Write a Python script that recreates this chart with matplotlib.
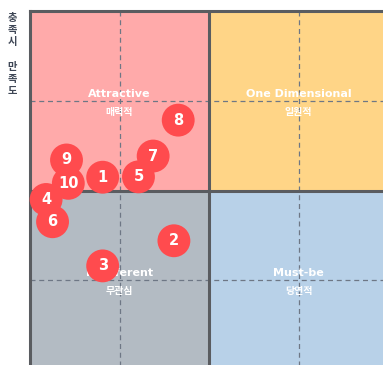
import matplotlib
matplotlib.use("Agg")
import matplotlib.pyplot as plt
from matplotlib.patches import Rectangle

# Kano quadrant chart: x = dissatisfaction when absent, y = satisfaction when present
item_ids = ["1", "2", "3", "4", "5", "6", "7", "8", "9", "10"]
x_vals = [0.203, 0.402, 0.203, 0.045, 0.303, 0.063, 0.344, 0.414, 0.102, 0.107]
y_vals = [0.537, 0.360, 0.290, 0.475, 0.538, 0.413, 0.596, 0.696, 0.585, 0.520]

quadrant_names = ["Attractive", "One Dimensional", "Indifferent", "Must-be"]
quadrant_names_ko = ["매력적", "일원적", "무관심", "당연적"]
y_axis_label = "충족시 만족도"

W, H = 383, 365
fig = plt.figure(figsize=(W / 100, H / 100), dpi=100)

# the plot area runs past the right and bottom edges of the figure
left_px, top_px = 30, 11
span_x, span_y = 358, 359
ax = fig.add_axes([left_px / W, (H - top_px - span_y) / H, span_x / W, span_y / H])
ax.set_xlim(0, 1)
ax.set_ylim(0, 1)
ax.set_xticks([])
ax.set_yticks([])

fills = {
    (0, 1): "#FFAAAA",   # Attractive
    (1, 1): "#FFD587",   # One Dimensional
    (0, 0): "#B3BBC3",   # Indifferent
    (1, 0): "#B8D1E8",   # Must-be
}
for (i, j), c in fills.items():
    ax.add_patch(Rectangle((i * 0.5, j * 0.5), 0.5, 0.5, facecolor=c,
                           edgecolor="none", zorder=0))

# dashed guides through each quadrant's centre
for v in (0.25, 0.75):
    ax.axvline(v, color="#6E7785", lw=0.9, ls=(0, (4, 3)), zorder=1)
    ax.axhline(v, color="#6E7785", lw=0.9, ls=(0, (4, 3)), zorder=1)

# quadrant dividers
ax.axvline(0.5, color="#5A5C60", lw=2.2, zorder=2)
ax.axhline(0.5, color="#5A5C60", lw=2.2, zorder=2)

for side in ("right", "bottom"):
    ax.spines[side].set_visible(False)
for side in ("top", "left"):
    ax.spines[side].set_color("#5A5C60")
    ax.spines[side].set_linewidth(2.2)

centres = [(0.25, 0.75), (0.75, 0.75), (0.25, 0.25), (0.75, 0.25)]
for (cx, cy), en, ko in zip(centres, quadrant_names, quadrant_names_ko):
    ax.text(cx, cy + 0.02, en, ha="center", va="center", color="white",
            fontsize=8, fontweight="bold", family="DejaVu Sans", zorder=3)
    ax.text(cx, cy - 0.031, ko, ha="center", va="center", color="white",
            fontsize=7.2, fontweight="bold", family="Noto Sans CJK KR", zorder=3)

ax.scatter(x_vals, y_vals, s=560, color="#FF4B4E", edgecolors="none",
           zorder=4, clip_on=False)
for lab, x, y in zip(item_ids, x_vals, y_vals):
    ax.text(x, y, lab, ha="center", va="center", color="white",
            fontsize=10.5, fontweight="bold", family="DejaVu Sans", zorder=5)

# vertical axis title, stacked one syllable per row
row_px = 12.2
for k, ch in enumerate(y_axis_label):
    if ch == " ":
        continue
    fig.text(12 / W, 1 - (18 + k * row_px) / H, ch, ha="center", va="center",
             fontsize=7.4, fontweight="bold", color="#3F4756",
             family="Noto Sans CJK KR")

fig.savefig("out.png", dpi=100)
